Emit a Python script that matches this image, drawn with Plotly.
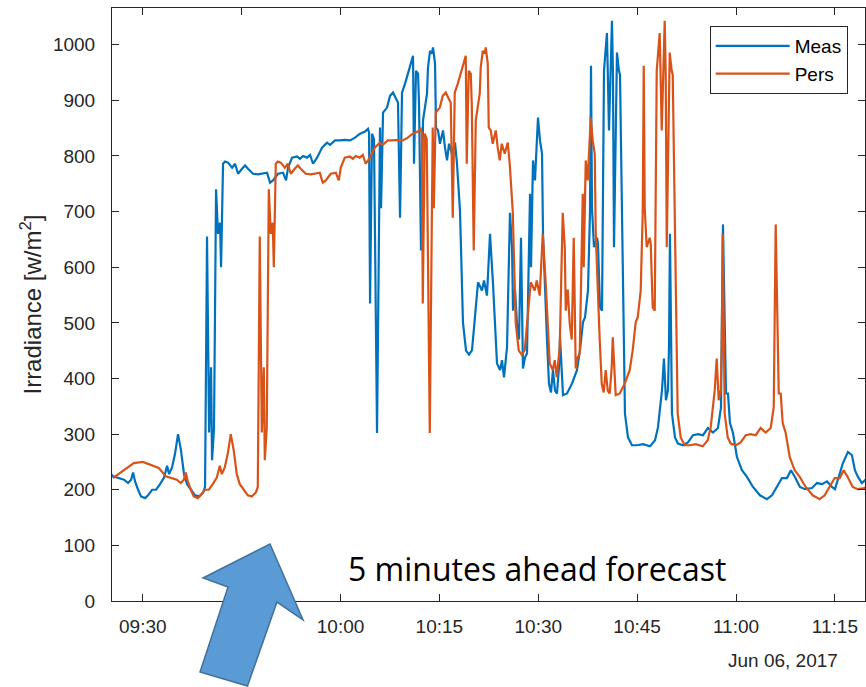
import pandas as pd
import plotly.graph_objects as go

# ---- data ----
# Measured irradiance: time in minutes after 09:00 on 2017-06-06, value in W/m^2
meas_minutes = [
    17.46, 19.12, 20.64, 22.01, 23.22, 24.43, 25.50, 26.25, 27.16, 27.77,
    28.23, 28.53, 28.83, 29.29, 29.74, 30.35, 30.80, 31.41, 32.02, 32.62,
    33.23, 33.69, 33.99, 34.44, 34.90, 35.35, 35.81, 36.26, 36.72, 37.33,
    37.93, 38.54, 39.15, 39.45, 39.75, 40.06, 40.36, 40.51, 40.81, 41.12,
    41.42, 41.72, 41.88, 42.18,
    42.48, 42.94, 43.55, 44.00, 44.46, 45.06, 45.52, 45.97, 46.73, 47.49,
    48.25, 48.85, 49.31, 49.76, 50.52, 51.28, 51.74, 52.04, 52.65, 53.40,
    53.86, 54.31, 54.92, 55.38, 55.83, 56.44, 57.20, 57.95, 58.41, 59.17,
    59.93, 60.68, 61.44, 62.20, 62.96, 63.72, 64.17, 64.33,
    64.48, 64.78, 65.08, 65.54, 65.99, 66.15, 66.45, 67.06, 67.51, 67.97,
    68.42, 68.72, 69.03, 69.33, 69.79, 70.24, 70.85, 71.00, 71.15, 71.45,
    71.76, 71.91, 72.21, 72.52, 73.12, 73.27, 73.58, 73.88, 74.03, 74.34,
    74.49, 74.79, 75.09, 75.55, 75.85, 76.16, 76.46, 76.91, 77.37, 77.67,
    78.13, 78.58, 79.04, 79.49, 79.95, 80.40, 80.86, 81.46, 81.77, 82.22,
    82.37, 82.68, 83.13, 83.44, 83.74, 84.20, 84.50, 84.80, 85.26, 85.41,
    85.71, 86.02, 86.17, 86.47, 86.77, 87.08, 87.38, 87.68, 87.99, 88.29,
    88.44, 88.75, 88.90, 89.20, 89.50, 89.96, 90.26, 90.57, 90.72, 91.02,
    91.32, 91.63, 91.93, 92.23, 92.54, 92.84, 93.14, 93.30, 93.75, 94.36,
    95.12, 95.87, 96.33, 96.78, 97.09, 97.54, 97.85, 98.00, 98.15, 98.45,
    98.91, 99.06, 99.36, 99.67, 99.97, 100.42, 100.73, 101.18, 101.33, 101.49,
    101.94, 102.24, 102.40, 102.70, 103.15, 103.61, 104.22, 104.98, 105.89, 106.95,
    107.71, 108.16, 108.77, 109.07, 109.37, 109.68, 109.83, 109.98, 110.28, 110.74,
    111.19, 111.95, 112.71, 113.47, 114.23, 114.99, 115.74, 116.50, 117.26, 117.72,
    118.02, 118.48, 118.78, 119.08, 119.54, 120.14, 120.90, 121.66, 122.57, 123.63,
    124.69, 125.45, 126.21, 126.97, 127.73, 128.33, 128.94, 129.70, 130.46, 131.52,
    132.28, 133.04, 133.80, 134.55, 135.01, 135.46, 136.22, 136.98, 137.59, 138.04,
    138.50, 139.10, 139.56, 140.20,
]
meas_values = [
    221, 235, 248, 250, 244, 239, 224, 221, 218, 212,
    218, 231, 215, 200, 188, 185, 190, 200, 200, 210,
    222, 243, 228, 240, 265, 300, 270, 228, 210, 200,
    190, 188, 195, 205, 655, 303, 420, 253, 310, 740,
    660, 680, 600, 786,
    790, 788, 779, 786, 768, 777, 783, 777, 768, 767,
    768, 770, 752, 756, 768, 770, 756, 779, 797, 799,
    795, 800, 797, 802, 786, 797, 815, 824, 820, 828,
    828, 829, 828, 833, 840, 844, 849, 842,
    535, 840, 830, 302, 851, 706, 878, 887, 908, 914,
    903, 896, 689, 914, 930, 948, 977, 980, 786, 953,
    948, 894, 630, 864, 912, 959, 989, 984, 995, 966,
    851, 846, 822, 846, 815, 792, 822, 804, 824, 786,
    700, 500, 450, 443, 451, 510, 573, 558, 576, 549,
    585, 660, 571, 492, 427, 415, 433, 402, 456, 540,
    698, 636, 522, 560, 499, 470, 653, 418, 438, 445,
    540, 732, 600, 792, 756, 869, 828, 804, 660, 558,
    470, 390, 375, 415, 378, 373, 420, 474, 370, 373,
    391, 415, 451, 501, 510, 558, 700, 962, 707, 636,
    653, 643, 528, 522, 953, 1021, 846, 1043, 950, 636,
    986, 953, 946, 700, 337, 294, 280, 280, 282, 278,
    289, 312, 379, 436, 361, 379, 456, 660, 337, 294,
    283, 280, 285, 298, 300, 298, 311, 303, 311, 348,
    677, 373, 373, 320, 302, 259, 235, 223, 205, 190,
    183, 190, 205, 221, 221, 235, 223, 205, 201, 203,
    212, 210, 215, 205, 201, 217, 248, 268, 262, 235,
    223, 212, 217, 215,
]

# Persistence forecast: the measured series repeated after the lag seen in the picture
pers_lag_minutes = 8
pers_minutes = [m + pers_lag_minutes for m in meas_minutes]
pers_values = list(meas_values)

series_names = ["Meas", "Pers"]
y_ticks = [0, 100, 200, 300, 400, 500, 600, 700, 800, 900, 1000]

base = pd.Timestamp("2017-06-06 09:00:00")
meas_t = base + pd.to_timedelta(meas_minutes, unit="m")
pers_t = base + pd.to_timedelta(pers_minutes, unit="m")

AX = "#262626"
FONT_FAMILY = "Liberation Sans, Arial, sans-serif"
TICKFONT = dict(family=FONT_FAMILY, size=19, color=AX)

fig = go.Figure()
fig.add_trace(go.Scatter(x=meas_t, y=meas_values, mode="lines", name=series_names[0],
                         line=dict(color="#0072BD", width=2.2)))
fig.add_trace(go.Scatter(x=pers_t, y=pers_values, mode="lines", name=series_names[1],
                         line=dict(color="#D95319", width=2.2)))

fig.update_layout(
    width=866, height=687,
    margin=dict(l=112, r=1, t=8, b=86),
    paper_bgcolor="white", plot_bgcolor="white",
    showlegend=True,
    legend=dict(x=0.977, y=0.9696, xanchor="right", yanchor="top",
                bgcolor="white", bordercolor=AX, borderwidth=1,
                font=dict(family=FONT_FAMILY, size=19, color="#000000"),
                itemwidth=74, tracegroupgap=0),
    xaxis=dict(
        type="date",
        range=["2017-06-06 09:25:20", "2017-06-06 11:19:34"],
        tick0="2017-06-06 09:30:00", dtick=15 * 60 * 1000,
        tickformat="%H:%M",
        ticks="inside", ticklen=7, tickcolor=AX, tickwidth=1,
        showline=True, linecolor=AX, linewidth=1, mirror="ticks",
        showgrid=False, zeroline=False,
        tickfont=TICKFONT, ticklabelstandoff=8,
    ),
    yaxis=dict(
        range=[0, 1066],
        tickvals=y_ticks, ticktext=[str(v) for v in y_ticks],
        ticks="inside", ticklen=7, tickcolor=AX, tickwidth=1,
        showline=True, linecolor=AX, linewidth=1, mirror="ticks",
        showgrid=False, zeroline=False,
        tickfont=TICKFONT, ticklabelstandoff=12,
        title=dict(text="Irradiance [w/m<sup>2</sup>]",
                   font=dict(family=FONT_FAMILY, size=24, color=AX),
                   standoff=4),
    ),
)

# date label under the axis (MATLAB style)
fig.add_annotation(text="Jun 06, 2017", xref="paper", yref="paper",
                   x=0.9668, y=-0.0995, xanchor="right", yanchor="middle",
                   showarrow=False, font=TICKFONT)

# callout text
fig.add_annotation(text="5 minutes ahead forecast", xref="paper", yref="paper",
                   x=0.5644, y=0.0556, xanchor="center", yanchor="middle",
                   showarrow=False,
                   font=dict(family="Open Sans, sans-serif", size=32, color="#000000"))

# block arrow (PowerPoint style)
arrow_pts = [(0.2098, 0.0961), (0.2537, -0.0320), (0.2191, -0.0017), (0.1799, -0.1433),
             (0.1169, -0.1197), (0.1541, 0.0236), (0.1209, 0.0388)]
path = "M " + " L ".join(f"{x},{y}" for x, y in arrow_pts) + " Z"
fig.add_shape(type="path", path=path, xref="paper", yref="paper", layer="above",
              fillcolor="#5B9BD5", line=dict(color="#41719C", width=1.5))

fig.write_html("out.html")
